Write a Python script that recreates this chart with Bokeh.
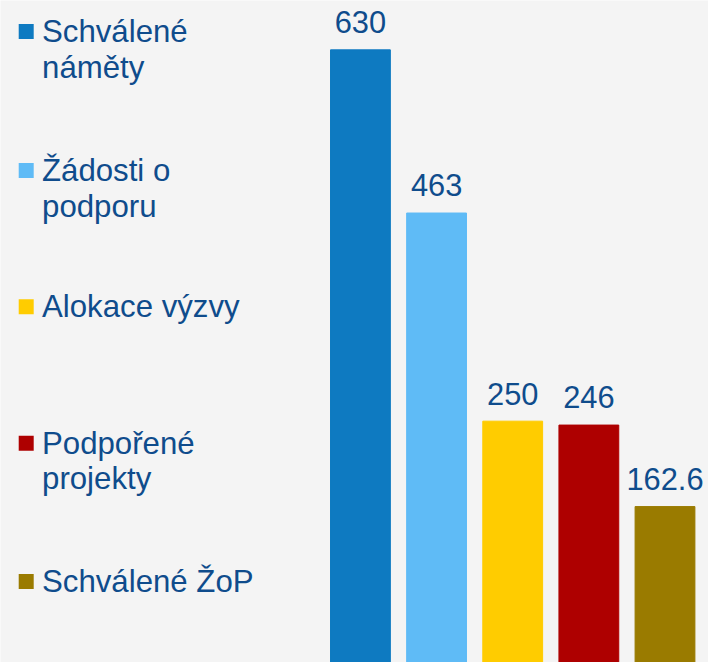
from bokeh.plotting import figure
from bokeh.models import Range1d, ColumnDataSource
from bokeh.core.properties import value
from bokeh.embed import file_html
from bokeh.resources import INLINE

# ---- data ----
categories = ["Schválené\nnáměty", "Žádosti o\npodporu", "Alokace výzvy",
              "Podpořené\nprojekty", "Schválené ŽoP"]
values = [630, 463, 250, 246, 162.6]
value_labels = ["630", "463", "250", "246", "162.6"]
colors = ["#0e7ac1", "#5fbbf6", "#ffcc00", "#ae0000", "#9a7b00"]

# ---- layout ----
W, H = 708, 662
BG = "#f4f4f4"
TXT = "#0f4c8c"
FONT = "Liberation Sans"

REF_W, REF_H = 716.0, 670.0
sx, sy = W / REF_W, H / REF_H          # design pixels -> figure pixels

bar_step = 77.0 * sx                   # px between bar centers
first_bar = 364.0 * sx                 # px of first bar center
x0 = -first_bar / bar_step
x1 = x0 + W / bar_step

zero_px = 673.0                        # design px of value 0 (just below frame)
ppu = 0.989                            # design px per unit
y0 = (zero_px - H / sy) / ppu
y1 = zero_px / ppu

BASE_FIX = 10.0                        # renderer baseline correction (px)

def dy(px):                            # design px -> data units (y)
    return px / ppu

def dx(px):                            # design px -> data units (x)
    return px * sx / bar_step

def ax(px):                            # design x position -> data x
    return x0 + dx(px)

def ay(px):                            # design y position -> data y
    return (zero_px - px) / ppu

p = figure(width=W, height=H, output_backend="svg", toolbar_location=None,
           x_range=Range1d(x0, x1), y_range=Range1d(y0, y1),
           min_border=0, outline_line_color=None,
           background_fill_color=BG, border_fill_color=BG)
p.axis.visible = False
p.grid.visible = False

xs = list(range(len(values)))
src = ColumnDataSource(dict(x=xs, top=values, color=colors, lab=value_labels,
                            ly=[v + dy(18 + BASE_FIX) for v in values]))
p.vbar(x="x", top="top", bottom=0, width=dx(60.5), color="color", source=src)
p.text(x="x", y="ly", text="lab", source=src, text_align="center",
       text_baseline="alphabetic", text_color=TXT,
       text_font=value(FONT), text_font_size="30.8px")

# ---- legend (manual, left side) ----
sq_centers = [31.5, 172, 310, 448, 588]
sq_x = ax(26)
tx_x = ax(42)
sq_y, lx, ly, lt = [], [], [], []
for cat, cy in zip(categories, sq_centers):
    sq_y.append(ay(cy))
    for j, line in enumerate(cat.split("\n")):
        lx.append(tx_x)
        ly.append(ay(cy + 10 - BASE_FIX + j * 36))
        lt.append(line)

p.scatter(x=[sq_x] * len(categories), y=sq_y, marker="square", size=15,
          color=colors, line_color=None)
p.text(x=lx, y=ly, text=lt, text_align="left", text_baseline="alphabetic",
       text_color=TXT, text_font=value(FONT), text_font_size="31.2px")

open("out.html", "w").write(file_html(p, INLINE))
